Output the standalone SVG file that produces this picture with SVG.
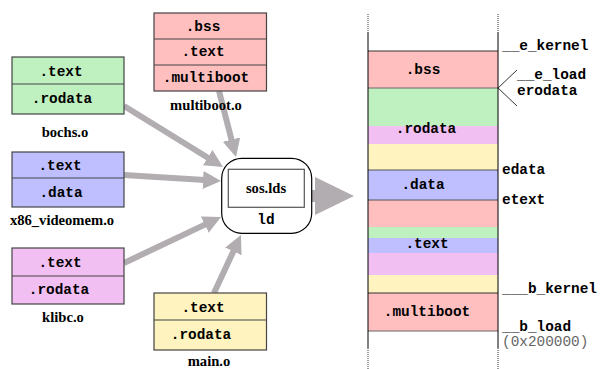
<svg xmlns="http://www.w3.org/2000/svg" width="602" height="369" viewBox="0 0 602 369">
<defs>
<style>
.m{font-family:"Liberation Mono","Courier New",monospace;font-weight:bold;font-size:14.4px;fill:#000;text-anchor:middle}
.ml{font-family:"Liberation Mono","Courier New",monospace;font-weight:bold;font-size:14.4px;fill:#000}
.s{font-family:"Liberation Serif","Times New Roman",serif;font-weight:bold;font-size:14.6px;fill:#000;text-anchor:middle}
.box{stroke:#444;stroke-width:1.2}
.red{fill:#ffbfbf}.green{fill:#bff0bf}.blue{fill:#bfbfff}.pink{fill:#f2bff2}.yellow{fill:#fff3bf}
.arr{stroke:#b1adb1;stroke-width:6;fill:none}
.sep{stroke:#333;stroke-width:1}
</style>
<marker id="ah" markerUnits="userSpaceOnUse" markerWidth="20" markerHeight="20" refX="6" refY="9" orient="auto">
<path d="M0,0 L18,9 L0,18 z" fill="#b1adb1"/>
</marker>
</defs>
<rect width="602" height="369" fill="#fff"/>

<g id="connectors">
<line class="arr" x1="124" y1="106" x2="212.8" y2="160.7" marker-end="url(#ah)"/>
<line class="arr" x1="219" y1="91" x2="233" y2="145.4" marker-end="url(#ah)"/>
<line class="arr" x1="124" y1="175" x2="209" y2="180.3" marker-end="url(#ah)"/>
<line class="arr" x1="124" y1="263" x2="210.2" y2="222.1" marker-end="url(#ah)"/>
<line class="arr" x1="214" y1="293" x2="235.9" y2="245.9" marker-end="url(#ah)"/>
<rect x="310" y="190" width="6" height="12" fill="#b1adb1"/>
<polygon points="315,177 354,196 315,215" fill="#b1adb1"/>
</g>

<g id="multiboot_o">
<rect class="box red" x="154" y="13" width="112.5" height="78"/>
<line class="box" x1="154" y1="39" x2="266.5" y2="39"/>
<line class="box" x1="154" y1="65" x2="266.5" y2="65"/>
<text class="m" x="203" y="31">.bss</text>
<text class="m" x="203" y="56">.text</text>
<text class="m" x="206" y="82">.multiboot</text>
<text class="s" x="206" y="110">multiboot.o</text>
</g>

<g id="bochs_o">
<rect class="box green" x="12" y="57" width="112" height="57"/>
<line class="box" x1="12" y1="84" x2="124" y2="84"/>
<text class="m" x="61" y="76">.text</text>
<text class="m" x="62" y="103">.rodata</text>
<text class="s" x="65" y="137">bochs.o</text>
</g>

<g id="x86_videomem_o">
<rect class="box blue" x="12" y="152" width="112" height="55"/>
<line class="box" x1="12" y1="178" x2="124" y2="178"/>
<text class="m" x="60" y="170">.text</text>
<text class="m" x="61" y="197">.data</text>
<text class="s" x="62" y="225">x86_videomem.o</text>
</g>

<g id="klibc_o">
<rect class="box pink" x="12" y="248" width="112" height="56"/>
<line class="box" x1="12" y1="276" x2="124" y2="276"/>
<text class="m" x="60" y="267">.text</text>
<text class="m" x="59" y="294">.rodata</text>
<text class="s" x="63" y="322">klibc.o</text>
</g>

<g id="main_o">
<rect class="box yellow" x="154" y="293" width="112.5" height="57"/>
<line class="box" x1="154" y1="320" x2="266.5" y2="320"/>
<text class="m" x="203" y="312">.text</text>
<text class="m" x="201" y="339">.rodata</text>
<text class="s" x="209" y="366">main.o</text>
</g>

<g id="ld">
<rect x="221.7" y="158.3" width="90" height="75" rx="20" ry="20" fill="#fff" stroke="#000" stroke-width="1.2"/>
<rect x="228.3" y="169.3" width="76" height="38" fill="#fff" stroke="#555" stroke-width="1.2"/>
<text class="s" x="266" y="193">sos.lds</text>
<text class="m" x="266" y="224">ld</text>
</g>

<g id="memory">
<rect class="red" x="368" y="51" width="130" height="37"/>
<rect class="green" x="368" y="88" width="130" height="38"/>
<rect class="pink" x="368" y="126" width="130" height="18"/>
<rect class="yellow" x="368" y="144" width="130" height="26"/>
<rect class="blue" x="368" y="170" width="130" height="30"/>
<rect class="red" x="368" y="200" width="130" height="27"/>
<rect class="green" x="368" y="227" width="130" height="11"/>
<rect class="blue" x="368" y="238" width="130" height="15"/>
<rect class="pink" x="368" y="253" width="130" height="22"/>
<rect class="yellow" x="368" y="275" width="130" height="18"/>
<rect class="red" x="368" y="293" width="130" height="38"/>
<line class="sep" x1="368" y1="51" x2="498" y2="51"/>
<line x1="368" y1="88" x2="498" y2="88" stroke="#666" stroke-width="1"/>
<line x1="368" y1="170" x2="498" y2="170" stroke="#555" stroke-width="1"/>
<line x1="368" y1="200" x2="498" y2="200" stroke="#555" stroke-width="1"/>
<line class="sep" x1="368" y1="293" x2="498" y2="293"/>
<line x1="368" y1="331" x2="498" y2="331" stroke="#666" stroke-width="1.2"/>
<line x1="368" y1="32" x2="368" y2="348" stroke="#000" stroke-width="1"/>
<line x1="498" y1="32" x2="498" y2="348" stroke="#000" stroke-width="1"/>
<line x1="368" y1="14" x2="368" y2="32" stroke="#000" stroke-width="0.8" stroke-dasharray="1,1"/>
<line x1="498" y1="14" x2="498" y2="32" stroke="#000" stroke-width="0.8" stroke-dasharray="1,1"/>
<line x1="368" y1="348" x2="368" y2="369" stroke="#000" stroke-width="0.8" stroke-dasharray="1,1"/>
<line x1="498" y1="348" x2="498" y2="369" stroke="#000" stroke-width="0.8" stroke-dasharray="1,1"/>
<text class="m" x="423" y="74">.bss</text>
<text class="m" x="426" y="133">.rodata</text>
<text class="m" x="423" y="189">.data</text>
<text class="m" x="427" y="248">.text</text>
<text class="m" x="427" y="316">.multiboot</text>
<line x1="498" y1="88" x2="517" y2="70" stroke="#000" stroke-width="0.8"/>
<line x1="498" y1="88" x2="517" y2="106" stroke="#000" stroke-width="0.8"/>
<text class="ml" x="502" y="50">__e_kernel</text>
<text class="ml" x="517" y="79">__e_load</text>
<text class="ml" x="517" y="95">erodata</text>
<text class="ml" x="502" y="174">edata</text>
<text class="ml" x="502" y="204">etext</text>
<text class="ml" x="502" y="293">___b_kernel</text>
<text class="ml" x="502" y="331">__b_load</text>
<text x="502" y="346" style="font-family:'Liberation Mono','Courier New',monospace;font-size:14.4px;fill:#666">(0x200000)</text>
</g>
</svg>
